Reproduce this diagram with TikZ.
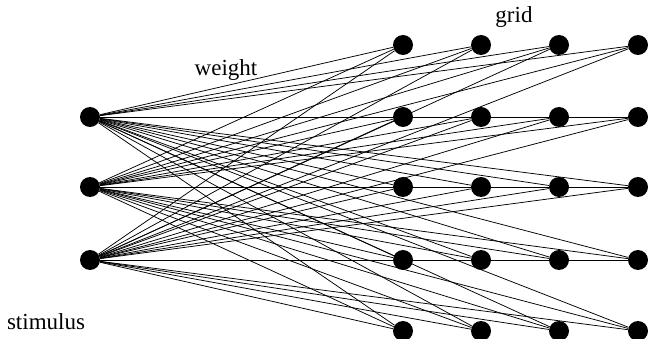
\documentclass[tikz,border=0pt]{standalone}
\usepackage{fontspec}
\setmainfont{Liberation Serif}
\begin{document}
\begin{tikzpicture}[x=1pt,y=-1pt,
  unit/.style={circle,fill=black,draw=none,minimum size=20pt,inner sep=0pt},
  link/.style={line width=0.75pt,black},
  lbl/.style={font=\fontsize{23}{25}\selectfont,inner sep=0pt}]
\useasboundingbox (0,0) rectangle (649,339);
% input units
\node[unit] (i1) at (90,117) {};
\node[unit] (i2) at (90,187) {};
\node[unit] (i3) at (90,260) {};
% grid units
\foreach \c/\x in {1/403,2/481,3/559,4/638}{
  \foreach \r/\y in {1/45,2/117,3/187,4/260,5/331}{
    \node[unit] (g\c\r) at (\x,\y) {};
  }
}
% connections
\foreach \i in {1,2,3}{
  \foreach \c in {1,2,3,4}{
    \foreach \r in {1,...,5}{
      \draw[link] (i\i) -- (g\c\r);
    }
  }
}
\node[lbl] (grid) at (514,17) {grid};
\node[lbl] (weight) at (226,70) {weight};
\node[lbl] (stim) at (46,322) {stimulus};
\end{tikzpicture}
\end{document}
